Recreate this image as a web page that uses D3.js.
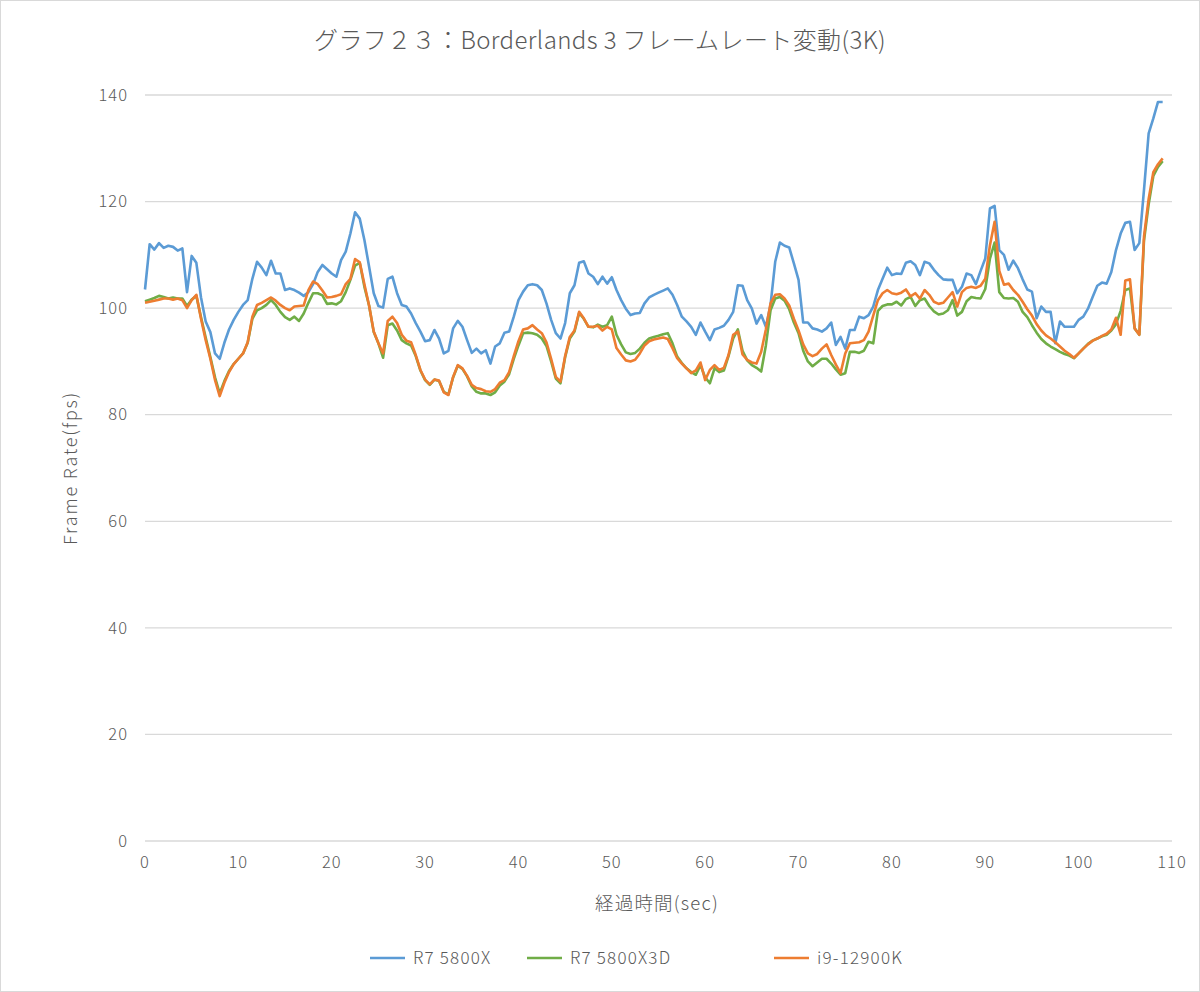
<!DOCTYPE html>
<html>
<head>
<meta charset="utf-8">
<script src="https://cdn.jsdelivr.net/npm/d3@7"></script>
<style>
  body { margin: 0; background: #fff; }
  text { font-family: "Noto Sans CJK JP", "Noto Sans", sans-serif; fill: #595959; font-weight: 300; }
</style>
</head>
<body>
<div id="graph"></div>
<script>
// sampled every 0.5 sec, starting at 0
const step = 0.5;
const xTicks = [0, 10, 20, 30, 40, 50, 60, 70, 80, 90, 100, 110];
const yTicks = [0, 20, 40, 60, 80, 100, 120, 140];
const seriesNames = ['R7 5800X', 'R7 5800X3D', 'i9-12900K'];

const r7_5800x = [
  103.5, 112, 111, 112.2, 111.3, 111.7, 111.5, 110.8, 111.2, 103,
  109.8, 108.5, 102, 97.5, 95.5, 91.5, 90.5, 93.5, 96, 97.8,
  99.3, 100.6, 101.5, 105.5, 108.7, 107.6, 106.2, 108.9, 106.5, 106.5,
  103.4, 103.7, 103.4, 102.9, 102.3, 103, 104.5, 106.8, 108.1, 107.3,
  106.5, 105.9, 109, 110.6, 114, 118, 116.8, 112.8, 107.8, 102.8,
  100.4, 100.1, 105.5, 105.9, 102.8, 100.6, 100.3, 99, 97.2, 95.6,
  93.8, 94, 95.9, 94.3, 91.5, 92, 96.2, 97.6, 96.5, 94,
  91.6, 92.4, 91.5, 92.1, 89.6, 92.8, 93.4, 95.4, 95.6, 98.4,
  101.5, 103.1, 104.3, 104.5, 104.3, 103.4, 100.9, 97.8, 95.3, 94.3,
  97.2, 102.8, 104.3, 108.5, 108.8, 106.5, 105.9, 104.5, 105.9, 104.6,
  105.8, 103.4, 101.5, 99.9, 98.7, 99, 99.1, 100.9, 102, 102.5,
  102.9, 103.3, 103.7, 102.5, 100.6, 98.4, 97.5, 96.5, 95, 97.3,
  95.6, 94, 96, 96.3, 96.7, 97.8, 99.3, 104.3, 104.2, 101.5,
  99.9, 97.1, 98.7, 96.5, 100.6, 108.7, 112.3, 111.7, 111.4, 108.4,
  105.3, 97.3, 97.3, 96.2, 96, 95.6, 96.2, 97.3, 93.1, 94.6,
  92.4, 95.9, 95.9, 98.4, 98.1, 98.7, 100.3, 103.4, 105.5, 107.6,
  106.2, 106.5, 106.4, 108.5, 108.8, 108.1, 106.2, 108.7, 108.4, 107.2,
  106.2, 105.4, 105.3, 105.3, 102.8, 104, 106.5, 106.2, 104.5, 107,
  109.3, 118.7, 119.2, 110.9, 110, 107.2, 108.9, 107.5, 105.4, 103.5,
  103.1, 98.1, 100.3, 99.3, 99.3, 93.4, 97.5, 96.5, 96.5, 96.5,
  97.8, 98.4, 99.9, 102.1, 104.2, 104.8, 104.6, 106.8, 110.9, 114,
  116, 116.2, 110.9, 112.2, 122.2, 132.8, 135.6, 138.7, 138.7
];

const r7_5800x3d = [
  101.3, 101.6, 101.9, 102.3, 102.1, 101.8, 102, 101.8, 101.8, 100.4,
  101.6, 102.3, 98.3, 94.5, 90.8, 87, 84, 86.3, 88.2, 89.5,
  90.5, 91.5, 93.5, 98, 99.6, 100, 100.6, 101.5, 100.6, 99.3,
  98.3, 97.8, 98.4, 97.6, 99, 101, 102.8, 102.8, 102.4, 100.8,
  100.9, 100.7, 101.3, 103, 105.3, 108, 108.5, 104, 100.5, 95.5,
  93.4, 90.7, 96.8, 97.1, 95.8, 94, 93.4, 93, 91, 88.3,
  86.5, 85.6, 86.6, 86.3, 84.3, 83.8, 87, 89.2, 88.6, 87.2,
  85.3, 84.3, 84, 84, 83.7, 84.2, 85.5, 86.2, 87.6, 90.5,
  93, 95.3, 95.4, 95.3, 95, 94.3, 92.9, 90, 86.8, 85.9,
  90.8, 94.3, 95.6, 99.1, 98, 96.5, 96.4, 96.9, 96.5, 96.8,
  98.4, 95, 93.2, 91.7, 91.4, 91.6, 92.4, 93.5, 94.3, 94.6,
  94.8, 95.1, 95.3, 93.4, 90.9, 89.7, 88.7, 88, 87.5, 89.3,
  87, 85.9, 88.7, 88, 88.3, 91, 94.3, 96, 92, 90.2,
  89.3, 88.8, 88.1, 93, 99.6, 101.8, 102.1, 101.4, 99.8, 97.3,
  95.3, 92, 90, 89.1, 89.8, 90.5, 90.5, 89.6, 88.5, 87.5,
  87.8, 91.8, 91.8, 91.6, 92, 93.7, 93.4, 99.5, 100.4, 100.7,
  100.7, 101.2, 100.5, 101.7, 102.1, 100.4, 101.5, 101.8, 100.4, 99.4,
  98.8, 99, 99.6, 101.5, 98.6, 99.3, 101.3, 102.1, 101.9, 101.8,
  103.6, 109.3, 112.3, 103, 101.9, 101.8, 101.9, 101.2, 99.3, 98.3,
  96.8, 95.4, 94.2, 93.4, 92.8, 92.3, 91.8, 91.4, 91.1, 90.6,
  91.5, 92.4, 93.3, 93.9, 94.3, 94.7, 95, 95.8, 97, 99.5,
  103.4, 103.7, 96.2, 95, 112.7, 119.5, 124.8, 126.5, 127.6
];

const i9_12900k = [
  101, 101.2, 101.4, 101.6, 101.8, 101.8, 101.6, 101.8, 101.5, 100,
  101.5, 102.5, 98, 94, 90.5, 86.5, 83.5, 86, 88, 89.5,
  90.5, 91.5, 93.6, 98.4, 100.6, 101, 101.5, 102, 101.4, 100.6,
  100, 99.6, 100.3, 100.4, 100.5, 103.4, 105, 104.5, 103.3, 102,
  102.1, 102.3, 102.6, 104.5, 105.5, 109.2, 108.6, 104.5, 100.5, 95.6,
  93.4, 91.5, 97.6, 98.4, 97.2, 95, 93.9, 93.6, 91.2, 88.4,
  86.6, 85.7, 86.6, 86.4, 84.2, 83.7, 87.1, 89.3, 88.7, 87.3,
  85.6, 85, 84.8, 84.4, 84.3, 84.8, 86, 86.5, 88, 91,
  93.8, 96, 96.2, 96.8, 96, 95.3, 93.6, 90.5, 87.1, 86.2,
  91, 94.6, 95.8, 99.3, 98.1, 96.5, 96.5, 96.7, 95.8, 96.5,
  96, 92.5, 91.3, 90.2, 90, 90.3, 91.5, 93, 93.8, 94.1,
  94.3, 94.5, 94.2, 92.5, 90.6, 89.6, 88.7, 87.8, 88.3, 89.8,
  86.5, 88.4, 89.3, 88.4, 88.8, 91.2, 95, 95.6, 91.3, 90.3,
  89.8, 89.6, 91.8, 96, 100.9, 102.5, 102.6, 101.8, 100.5, 98,
  95.8, 93.2, 91.5, 91, 91.4, 92.4, 93.2, 91.2, 89.4, 87.8,
  91.5, 93.4, 93.5, 93.6, 94, 95.6, 98.6, 101.5, 102.8, 103.4,
  102.8, 102.6, 102.9, 103.5, 102.2, 102.8, 101.8, 103.4, 102.5, 101.2,
  100.8, 101, 102, 103, 100.3, 103, 103.8, 104, 103.8, 104.2,
  105.5, 111.8, 116.2, 107, 104.4, 104.6, 103.4, 102.5, 101.2, 99.8,
  98.6, 97, 95.8, 94.9, 94.3, 93.6, 92.8, 92, 91.4, 90.7,
  91.5, 92.4, 93.2, 93.9, 94.3, 94.8, 95.2, 96, 98.2, 95,
  105.2, 105.4, 96.2, 95, 113.4, 120.5, 125.5, 127, 128.1
];

const seriesValues = [r7_5800x, r7_5800x3d, i9_12900k];
const colors = ['#5B9BD5', '#70AD47', '#ED7D31'];

var width = 1200;
var height = 992;

var svg = d3.select('#graph')
            .append('svg')
            .attr('width', width)
            .attr('height', height);

svg.append('rect')
   .attr('x', 0.5).attr('y', 0.5)
   .attr('width', width - 1).attr('height', height - 1)
   .attr('fill', '#fff')
   .attr('stroke', '#d9d9d9');

var x = d3.scaleLinear().domain([0, 110]).range([145, 1172]);
var y = d3.scaleLinear().domain([0, 140]).range([841, 95]);

// grid lines
svg.append('g')
   .selectAll('line')
   .data(yTicks)
   .enter()
   .append('line')
   .attr('x1', x(0)).attr('x2', x(110))
   .attr('y1', d => y(d)).attr('y2', d => y(d))
   .attr('stroke', '#d9d9d9')
   .attr('stroke-width', 1.3);

// y tick labels
svg.append('g')
   .selectAll('text')
   .data(yTicks)
   .enter()
   .append('text')
   .attr('x', 128)
   .attr('y', d => y(d))
   .attr('dy', '0.35em')
   .attr('text-anchor', 'end')
   .attr('font-size', 16.5)
   .attr('letter-spacing', 1)
   .text(d => d);

// x tick labels
svg.append('g')
   .selectAll('text')
   .data(xTicks)
   .enter()
   .append('text')
   .attr('x', d => x(d))
   .attr('y', 868)
   .attr('text-anchor', 'middle')
   .attr('font-size', 16.5)
   .attr('letter-spacing', 1)
   .text(d => d);

// titles
svg.append('text')
   .attr('x', 600).attr('y', 49)
   .attr('text-anchor', 'middle')
   .attr('font-size', 24)
   .attr('letter-spacing', 0.4)
   .text('グラフ２３：Borderlands 3 フレームレート変動(3K)');

svg.append('text')
   .attr('x', 657).attr('y', 910)
   .attr('text-anchor', 'middle')
   .attr('font-size', 18.5)
   .attr('letter-spacing', 1.2)
   .text('経過時間(sec)');

svg.append('text')
   .attr('transform', 'translate(77,468) rotate(-90)')
   .attr('text-anchor', 'middle')
   .attr('font-size', 18)
   .attr('letter-spacing', 1.8)
   .text('Frame Rate(fps)');

// lines
var line = d3.line()
             .x((d, i) => x(i * step))
             .y(d => y(d));

svg.append('g')
   .selectAll('path')
   .data(seriesValues)
   .enter()
   .append('path')
   .attr('fill', 'none')
   .attr('stroke', (d, i) => colors[i])
   .attr('stroke-width', 2.6)
   .attr('stroke-linejoin', 'round')
   .attr('d', line);

// legend
var legendX = [370, 527, 774];
var legend = svg.append('g')
                .selectAll('g')
                .data(seriesNames)
                .enter()
                .append('g')
                .attr('transform', (d, i) => 'translate(' + legendX[i] + ',958)');

legend.append('line')
      .attr('x1', 0).attr('x2', 35)
      .attr('stroke', (d, i) => colors[i])
      .attr('stroke-width', 2.6);

legend.append('text')
      .attr('x', 43)
      .attr('dy', '0.35em')
      .attr('font-size', 17)
      .attr('letter-spacing', 1.2)
      .text(d => d);
</script>
</body>
</html>
